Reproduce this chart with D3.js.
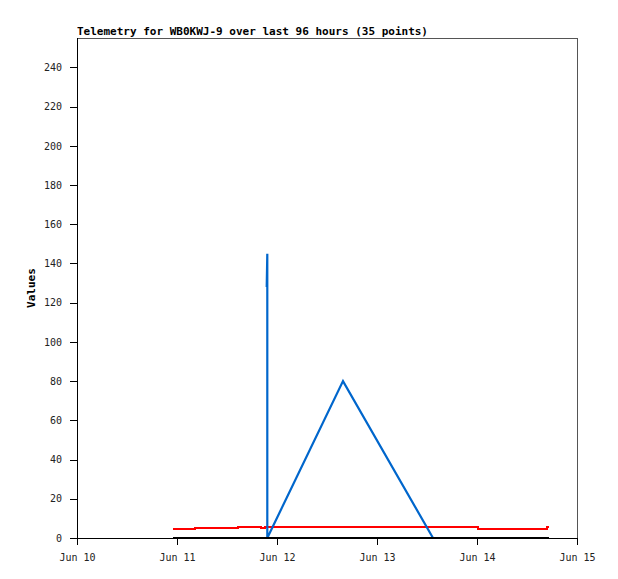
<!DOCTYPE html>
<html>
<head>
<meta charset="utf-8">
<script src="https://cdn.jsdelivr.net/npm/d3@7"></script>
<style>
  html, body { margin: 0; padding: 0; background: #fff; }
  svg { display: block; }
</style>
</head>
<body>
<svg id="chart" width="618" height="579"></svg>
<script>
// ---- data (time as "days after Jun 10 00:00", values) ----
const titleText = "Telemetry for WB0KWJ-9 over last 96 hours (35 points)";
const yLabel = "Values";
const yTicks = [0, 20, 40, 60, 80, 100, 120, 140, 160, 180, 200, 220, 240];
const xTickLabels = ["Jun 10", "Jun 11", "Jun 12", "Jun 13", "Jun 14", "Jun 15"];

const blackDays = [0.96, 4.72];
const blackVals = [0, 0];

const redDays = [0.96, 1.18, 1.61, 1.84, 1.88, 4.01, 4.70, 4.72];
const redVals = [4.6, 5.2, 5.7, 5.2, 5.7, 4.7, 5.7, 5.7];

const blueDays = [1.897, 1.903, 1.903, 2.66, 3.56];
const blueVals = [128, 145, 0, 80, 0];

// ---- layout ----
const svg = d3.select("#chart");
const L = 77, R = 577, T = 38, B = 538;
const base = new Date(2024, 5, 10);
const toDate = d => new Date(base.getTime() + d * 86400000);

const x = d3.scaleTime().domain([base, toDate(5)]).range([L, R]);
const y = d3.scaleLinear().domain([0, 255]).range([B, T]);

const fontMono = "'DejaVu Sans Mono', 'Liberation Mono', monospace";

// frame (top & right grey)
svg.append("path")
  .attr("d", `M${L},${T}H${R}V${B}`)
  .attr("fill", "none").attr("stroke", "#555").attr("stroke-width", 1)
  .attr("shape-rendering", "crispEdges");

// series
function drawLine(days, vals, color, width, curve, rendering) {
  const pts = days.map((d, i) => ({ t: toDate(d), v: vals[i] }));
  const gen = d3.line().x(p => x(p.t)).y(p => y(p.v));
  if (curve) gen.curve(curve);
  svg.append("path")
    .datum(pts)
    .attr("d", gen)
    .attr("fill", "none")
    .attr("stroke", color)
    .attr("stroke-width", width)
    .attr("stroke-linejoin", "miter")
    .attr("shape-rendering", rendering || "crispEdges");
}
drawLine(redDays, redVals, "#ff0000", 2.2, d3.curveStepAfter);
drawLine(blueDays, blueVals, "#0066cc", 2.2, null, "auto");

// axes
const yAxis = d3.axisLeft(y).tickValues(yTicks).tickSize(7).tickSizeOuter(0).tickPadding(8);
const gy = svg.append("g").attr("transform", `translate(${L},0)`).call(yAxis);
const xAxis = d3.axisBottom(x).ticks(d3.timeDay.every(1))
  .tickFormat((d, i) => xTickLabels[i]).tickSize(7).tickSizeOuter(0).tickPadding(9);
const gx = svg.append("g").attr("transform", `translate(0,${B})`).call(xAxis);

[gy, gx].forEach(g => {
  g.select(".domain").attr("stroke", "#000").attr("shape-rendering", "crispEdges");
  g.selectAll(".tick line").attr("stroke", "#000").attr("shape-rendering", "crispEdges");
  g.selectAll(".tick text").attr("fill", "#222")
    .attr("font-family", fontMono).attr("font-size", "10px");
});
gy.select(".domain").attr("d", `M0,${B + 0.5}V${T}`);

// black zero line (drawn over axis)
drawLine(blackDays, blackVals, "#000000", 2.6);

// title
svg.append("text")
  .attr("x", L).attr("y", 35)
  .attr("font-family", fontMono).attr("font-weight", "bold").attr("font-size", "11px")
  .attr("fill", "#000")
  .text(titleText);

// y label
svg.append("text")
  .attr("transform", `translate(35,${(T + B) / 2}) rotate(-90)`)
  .attr("text-anchor", "middle")
  .attr("font-family", fontMono).attr("font-weight", "bold").attr("font-size", "11px")
  .attr("fill", "#000")
  .text(yLabel);
</script>
</body>
</html>
